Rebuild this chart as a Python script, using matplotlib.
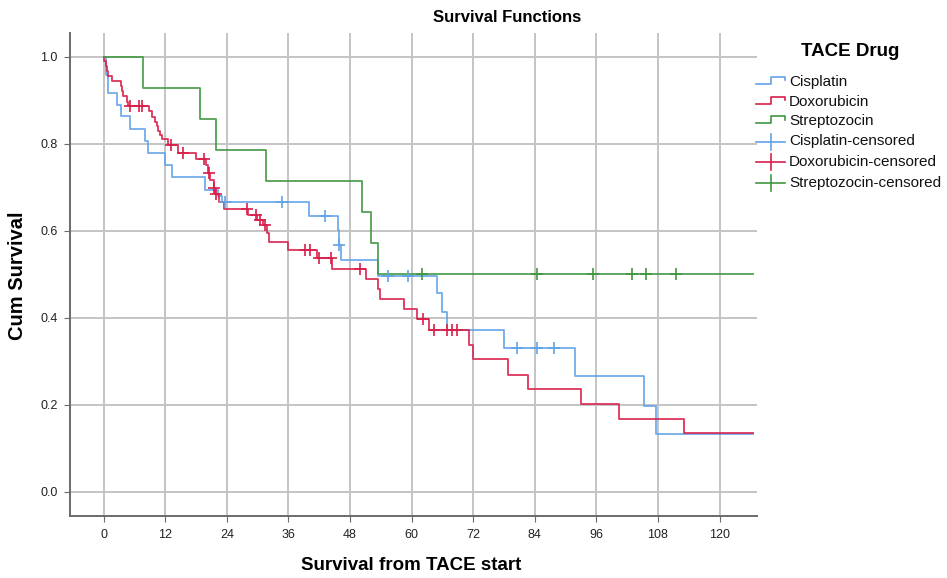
import matplotlib
matplotlib.use("Agg")
import matplotlib.pyplot as plt
from matplotlib.lines import Line2D
import numpy as np

plt.rcParams['font.family'] = ['Liberation Sans', 'DejaVu Sans']

#%% Kaplan-Meier step data (months, cumulative survival)
t_end = 126.6

cis_t = [0, 0.5, 0.8, 2.5, 3.4, 5.1, 8.0, 8.7, 11.9, 13.4, 19.8, 22.2, 23.0, 40.0,
         45.6, 45.8, 46.3, 53.5, 64.9, 66.0, 66.8, 78.0, 91.9, 105.3, 107.7]
cis_s = [1.0, 0.958, 0.917, 0.890, 0.863, 0.835, 0.806, 0.779, 0.752, 0.724, 0.694, 0.681,
         0.667, 0.635, 0.601, 0.568, 0.533, 0.497, 0.457, 0.414, 0.372, 0.330, 0.265, 0.198, 0.132]
cis_cens = [23.6, 34.8, 43.1, 45.8, 55.4, 59.3, 80.6, 84.5, 87.7]

dox_t = [0, 0.12, 0.38, 0.6, 0.77, 1.55, 3.37, 3.5, 3.83, 4.48, 4.8, 8.9, 9.35, 10.0,
         10.3, 10.6, 11.0, 11.3, 12.6, 14.5, 17.9, 19.9, 20.4, 20.7, 21.4, 21.7, 22.4,
         23.5, 28.2, 29.9, 31.1, 31.8, 32.3, 36.0, 41.6, 44.4, 51.1, 53.5, 53.8, 58.5,
         61.1, 63.4, 71.2, 71.9, 78.8, 82.7, 93.1, 100.4, 113.0]
dox_s = [1.0, 0.990, 0.978, 0.967, 0.955, 0.944, 0.932, 0.921, 0.909, 0.897, 0.886, 0.875,
         0.862, 0.851, 0.840, 0.829, 0.820, 0.811, 0.798, 0.780, 0.765, 0.752, 0.734, 0.717,
         0.698, 0.685, 0.667, 0.650, 0.637, 0.625, 0.614, 0.595, 0.575, 0.556, 0.537, 0.512,
         0.489, 0.466, 0.443, 0.420, 0.398, 0.372, 0.337, 0.305, 0.269, 0.235, 0.201, 0.167, 0.134]
dox_cens = [5.1, 6.9, 7.4, 13.2, 15.4, 19.5, 20.5, 21.4, 21.9, 27.9, 29.7, 30.5, 31.4,
            39.2, 40.2, 42.0, 44.2, 49.9, 62.3, 64.4, 66.8, 67.9, 68.9]

strep_t = [0, 7.6, 18.8, 21.8, 31.6, 50.4, 52.0, 53.5]
strep_s = [1.0, 0.929, 0.857, 0.786, 0.714, 0.643, 0.571, 0.5]
strep_cens = [62.1, 84.4, 95.4, 103.0, 105.6, 111.5]

groups = ['Cisplatin', 'Doxorubicin', 'Streptozocin']
colors = ['#62a2e8', '#d81f4a', '#3f973f']
series = [(cis_t, cis_s, cis_cens), (dox_t, dox_s, dox_cens), (strep_t, strep_s, strep_cens)]

#%% Plot
W, H = 947, 578
fig = plt.figure(figsize=(W/100, H/100), dpi=100)
ax = fig.add_axes([70/W, 1-516/H, 687/W, 483/H])

for (t, s, cens), col in zip(series, colors):
    t = np.array(t + [t_end])
    s = np.array(s + [s[-1]])
    ax.step(t, s, where='post', color=col, lw=1.3, alpha=0.9, zorder=3)
    idx = np.searchsorted(t, cens, side='right') - 1
    ax.plot(cens, s[idx], '+', color=col, ms=9, mew=1.2, zorder=4)

ax.set_xlim(-6.57, 127.3)
ax.set_ylim(-0.056, 1.055)
ax.set_xticks(np.arange(0, 121, 12))
ax.set_yticks(np.arange(0, 1.01, 0.2))
ax.set_yticklabels(['%.1f' % v for v in np.arange(0, 1.01, 0.2)])
ax.grid(True, color='#c4c4c4', lw=1.4, zorder=0)
ax.set_axisbelow(True)
for side in ['top', 'right']:
    ax.spines[side].set_visible(False)
for side in ['left', 'bottom']:
    ax.spines[side].set_color('#6a6a6a')
    ax.spines[side].set_linewidth(1.4)
ax.tick_params(length=4, color='#6a6a6a', labelsize=9, labelcolor='#222222', pad=5)

fig.text(507/W, 1-17/H, 'Survival Functions', ha='center', va='center',
         fontsize=12, fontweight='bold')
fig.text(411/W, 1-565/H, 'Survival from TACE start', ha='center', va='center',
         fontsize=13.5, fontweight='bold')
fig.text(18/W, 1-276/H, 'Cum Survival', ha='center', va='center', rotation=90,
         fontsize=14.5, fontweight='bold')

#%% Legend drawn by hand (step icons + censor crosses)
def px(x, y):
    return x/W, 1-y/H

fig.text(*px(850, 52), 'TACE Drug', ha='center', va='center', fontsize=13.5, fontweight='bold')
rows = [81.7, 101.7, 121.2, 141.5, 162.0, 182.5]
labels = groups + [g + '-censored' for g in groups]
for i, (y, lab) in enumerate(zip(rows, labels)):
    col = colors[i % 3]
    if i < 3:
        xs = [756, 770.5, 770.5, 785, 785]
        ys = [y+1.8, y+1.8, y-4.8, y-4.8, y-1.5]
        fig.add_artist(Line2D([px(a, b)[0] for a, b in zip(xs, ys)],
                              [px(a, b)[1] for a, b in zip(xs, ys)],
                              color=col, lw=1.2, transform=fig.transFigure))
    else:
        fig.add_artist(Line2D([756/W, 785/W], [px(0, y)[1]]*2, color=col, lw=1.2,
                              transform=fig.transFigure))
        fig.add_artist(Line2D([770.5/W]*2, [px(0, y-8)[1], px(0, y+8)[1]], color=col,
                              lw=1.2, transform=fig.transFigure))
    fig.text(*px(789, y), lab, ha='left', va='center', fontsize=11, color='#111111')

plt.savefig('out.png', dpi=100)
